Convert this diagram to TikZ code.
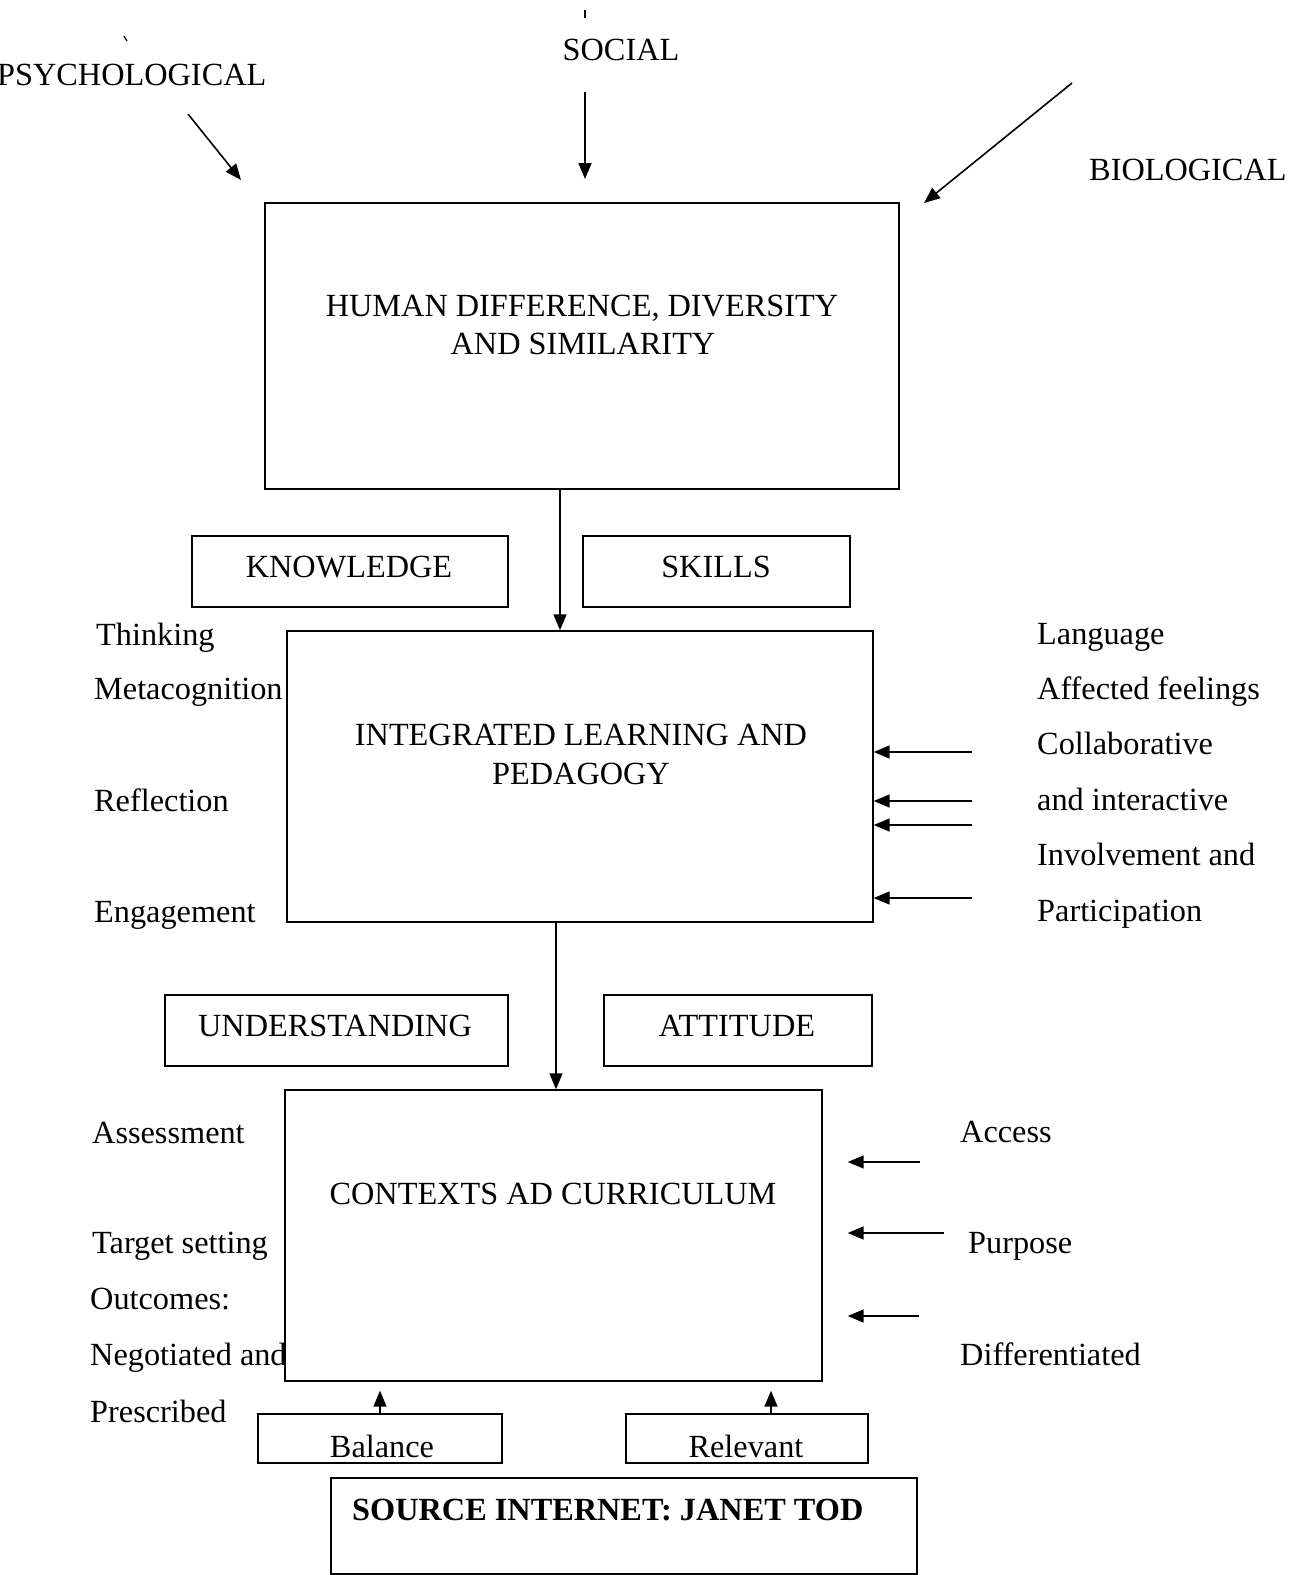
\documentclass[tikz,border=0pt]{standalone}
\usepackage{fontspec}
\setmainfont{Liberation Serif}
\usetikzlibrary{arrows.meta}
\begin{document}
\begin{tikzpicture}[x=1pt,y=-1pt,
  boxst/.style={draw, line width=1.4pt, inner sep=0pt, rectangle},
  txt/.style={inner sep=0pt, font=\fontsize{32.3}{38}\selectfont},
  lab/.style={txt, anchor=base west},
  ctr/.style={txt, anchor=base},
  arr/.style={line width=1.6pt, -{Triangle[length=16pt,width=13pt]}}]
\useasboundingbox (0,0) rectangle (1293,1575);

% scan marks
\draw[line width=1.2pt] (124,36) -- (127,41);
\draw[line width=1.2pt] (585,10) -- (585,18);

% top labels
\node[lab] (psy) at (-3,85) {PSYCHOLOGICAL};
\node[ctr] (soc) at (621,60) {SOCIAL};
\node[lab] (bio) at (1089,180) {BIOLOGICAL};

% main boxes
\node[boxst, minimum width=634pt, minimum height=286pt] (b1) at (582,346) {};
\node[ctr] (b1a) at (582,316) {HUMAN DIFFERENCE, DIVERSITY};
\node[ctr] (b1b) at (583,354) {AND SIMILARITY};

\node[boxst, minimum width=586pt, minimum height=291pt] (b2) at (580,776.5) {};
\node[ctr] (b2a) at (581,745) {INTEGRATED LEARNING AND};
\node[ctr] (b2b) at (581,784) {PEDAGOGY};

\node[boxst, minimum width=537pt, minimum height=291pt] (b3) at (553.5,1235.5) {};
\node[ctr] (b3a) at (553,1204) {CONTEXTS AD CURRICULUM};

% small boxes
\node[boxst, minimum width=316pt, minimum height=71pt] (kn) at (350,571.5) {};
\node[ctr] (knt) at (349,577) {KNOWLEDGE};
\node[boxst, minimum width=267pt, minimum height=71pt] (sk) at (716.5,571.5) {};
\node[ctr] (skt) at (716,577) {SKILLS};

\node[boxst, minimum width=343pt, minimum height=71pt] (un) at (336.5,1030.5) {};
\node[ctr] (unt) at (335,1036) {UNDERSTANDING};
\node[boxst, minimum width=268pt, minimum height=71pt] (at) at (738,1030.5) {};
\node[ctr] (att) at (737,1036) {ATTITUDE};

\node[boxst, minimum width=244pt, minimum height=49pt] (bal) at (380,1438.5) {};
\node[ctr] (balt) at (382,1457) {Balance};
\node[boxst, minimum width=242pt, minimum height=49pt] (rel) at (747,1438.5) {};
\node[ctr] (relt) at (746,1457) {Relevant};

\node[boxst, minimum width=586pt, minimum height=96pt] (src) at (624,1526) {};
\node[lab, font=\fontsize{32.3}{38}\selectfont\bfseries] (srct) at (352,1520) {SOURCE INTERNET: JANET TOD};

% left labels (middle)
\node[lab] (l1) at (96,645) {Thinking};
\node[lab] (l2) at (94,699) {Metacognition};
\node[lab] (l3) at (94,811) {Reflection};
\node[lab] (l4) at (94,922) {Engagement};

% right labels (middle)
\node[lab] (r1t) at (1037,644) {Language};
\node[lab] (r2t) at (1037,699) {Affected feelings};
\node[lab] (r3t) at (1037,754) {Collaborative};
\node[lab] (r4t) at (1037,810) {and interactive};
\node[lab] (r5t) at (1037,865) {Involvement and};
\node[lab] (r6t) at (1037,921) {Participation};

% left labels (lower)
\node[lab] (m1) at (92,1143) {Assessment};
\node[lab] (m2) at (92,1253) {Target setting};
\node[lab] (m3) at (90,1309) {Outcomes:};
\node[lab] (m4) at (90,1365) {Negotiated and};
\node[lab] (m5) at (90,1422) {Prescribed};

% right labels (lower)
\node[lab] (n1) at (960,1142) {Access};
\node[lab] (n2) at (968,1253) {Purpose};
\node[lab] (n3) at (960,1365) {Differentiated};

% top arrows
\coordinate (pa) at (188,114); \coordinate (pb) at (241,180);
\coordinate (sa) at (585,92);  \coordinate (sb) at (585,179);
\coordinate (ba) at (1072,83); \coordinate (bb) at (924,203);
\draw[arr] (pa) -- (pb);
\draw[arr] (sa) -- (sb);
\draw[arr] (ba) -- (bb);

% vertical flow arrows
\coordinate (xa) at (560,0);
\coordinate (xb) at (556,0);
\draw[arr] (b1.south -| xa) -- (b2.north -| xa);
\draw[arr] (b2.south -| xb) -- (b3.north -| xb);

% right arrows into box 2
\coordinate (q1) at (972,752);
\coordinate (q2) at (972,801);
\coordinate (q3) at (972,825);
\coordinate (q4) at (972,898);
\foreach \q in {q1,q2,q3,q4} \draw[arr] (\q) -- (\q -| b2.east);

% right arrows toward box 3
\coordinate (s1) at (920,1162);
\coordinate (s2) at (944,1233);
\coordinate (s3) at (919,1316);
\foreach \s in {s1,s2,s3} \draw[arr, shorten >=25pt] (\s) -- (\s -| b3.east);

% up arrows
\coordinate (ua) at (380,0);
\coordinate (ub) at (771,0);
\draw[arr, shorten >=9pt] (bal.north -| ua) -- (b3.south -| ua);
\draw[arr, shorten >=9pt] (rel.north -| ub) -- (b3.south -| ub);
\end{tikzpicture}
\end{document}
